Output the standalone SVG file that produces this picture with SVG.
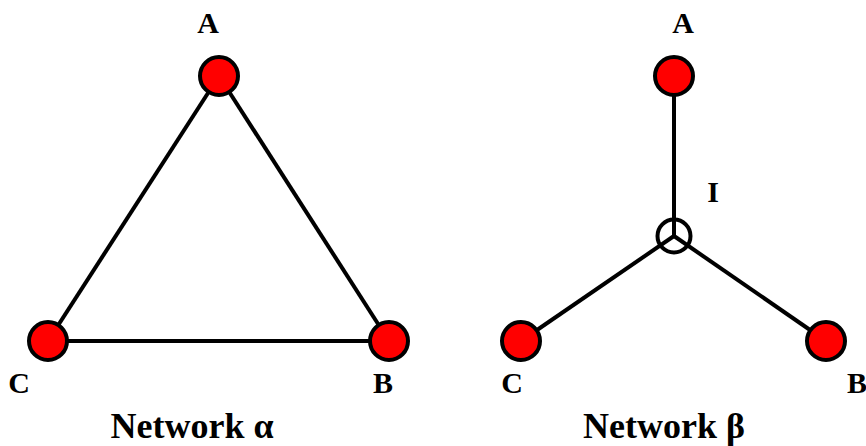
<svg xmlns="http://www.w3.org/2000/svg" width="866" height="446" viewBox="0 0 866 446">
<style>
.node{fill:#ff0000;stroke:#000;stroke-width:4}
.hub{fill:#fff;stroke:#000;stroke-width:4}
.edge{stroke:#000;stroke-width:4;fill:none}
.lbl{font-family:"Liberation Serif",serif;font-weight:bold;font-size:30px;fill:#000;text-anchor:middle}
.title{font-family:"Liberation Serif",serif;font-weight:bold;font-size:36px;fill:#000;text-anchor:middle}
</style>
<rect width="866" height="446" fill="#fff"/>
<g id="beta-I"><circle class="hub" cx="674" cy="236" r="16.5"/><text class="lbl" x="713" y="202">I</text></g>
<g id="connectors">
<line class="edge" x1="219" y1="76" x2="48" y2="341"/>
<line class="edge" x1="219" y1="76" x2="389" y2="341"/>
<line class="edge" x1="48" y1="341" x2="389" y2="341"/>
<line class="edge" x1="674" y1="76" x2="674" y2="236"/>
<line class="edge" x1="674" y1="236" x2="521" y2="341"/>
<line class="edge" x1="674" y1="236" x2="826" y2="341"/>
</g>
<g id="alpha-A"><circle class="node" cx="219" cy="76" r="19"/><text class="lbl" x="208" y="33">A</text></g>
<g id="alpha-B"><circle class="node" cx="389" cy="341" r="19"/><text class="lbl" x="383" y="393">B</text></g>
<g id="alpha-C"><circle class="node" cx="48" cy="341" r="19"/><text class="lbl" x="19" y="393">C</text></g>
<g id="beta-A"><circle class="node" cx="674" cy="76" r="19"/><text class="lbl" x="683" y="33">A</text></g>
<g id="beta-B"><circle class="node" cx="826" cy="341" r="19"/><text class="lbl" x="857" y="393">B</text></g>
<g id="beta-C"><circle class="node" cx="521" cy="341" r="19"/><text class="lbl" x="512" y="393">C</text></g>
<text class="title" x="192" y="438">Network α</text>
<text class="title" x="664" y="438">Network β</text>
</svg>
